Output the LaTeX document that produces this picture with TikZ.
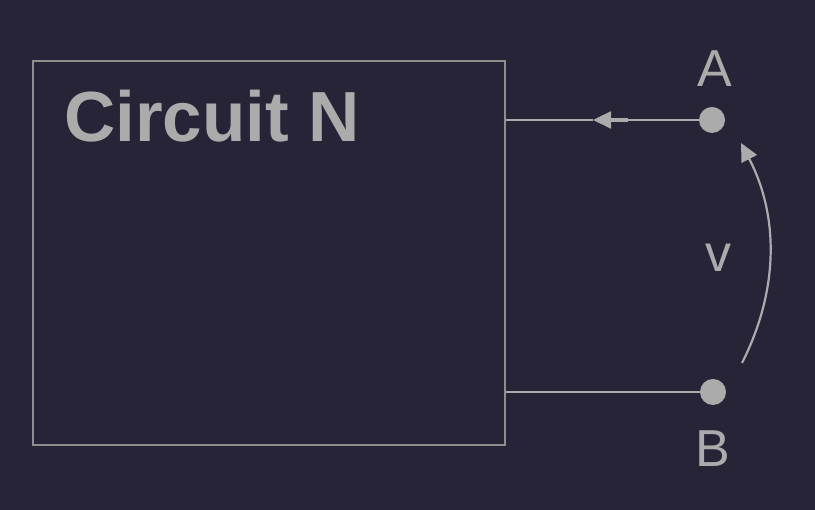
\documentclass[tikz,border=0pt]{standalone}
\usepackage{fontspec}
\setmainfont{Liberation Sans}
\usetikzlibrary{arrows.meta}
\definecolor{bg}{HTML}{262436}
\definecolor{fg}{HTML}{ABABAB}
\definecolor{boxc}{HTML}{8E8E8E}
\tikzset{
  wire/.style={draw=fg, line width=2.2pt},
  term/.style={circle, fill=fg, inner sep=0pt, minimum size=26pt},
  lbl/.style={text=fg, font=\fontsize{52}{52}\selectfont, inner sep=0pt},
  tipstyle/.style={-{Triangle[length=18pt,width=17pt]}}
}
\begin{document}
\begin{tikzpicture}[x=1pt,y=1pt]
\fill[bg] (0,0) rectangle (815,510);
\useasboundingbox (0,0) rectangle (815,510);
\node[draw=boxc, line width=1.8pt, minimum width=472pt, minimum height=384pt, inner sep=0pt] (box) at (269,257) {};
\node[text=fg, font=\bfseries\fontsize{71}{71}\selectfont, anchor=base west, inner sep=0pt] (title) at (64,368) {Circuit N};
\node[term] (A) at (712,390) {};
\node[term] (B) at (713,118) {};
\node[lbl, anchor=base] (la) at (715,423) {A};
\node[lbl, anchor=base] (lb) at (713,43) {B};
\node[lbl, anchor=base] (lv) at (718,238) {v};
\coordinate (Ain) at (box.east |- A);
\coordinate (Bin) at (box.east |- B);
\coordinate (tipA) at (593,390);
\coordinate (thk1) at (609,390);
\coordinate (thk2) at (628,390);
\draw[wire, tipstyle, fill=fg] (A) -- (tipA);
\draw[wire] (tipA) -- (Ain);
\draw[draw=fg, line width=4pt] (thk1) -- (thk2);
\draw[wire] (B) -- (Bin);
\coordinate (vlo) at (742,147);
\coordinate (vhi) at (741,367);
\draw[draw=fg, line width=2.2pt, tipstyle, fill=none] (vlo) .. controls (779,220) and (779,294) .. (vhi);
\end{tikzpicture}
\end{document}
